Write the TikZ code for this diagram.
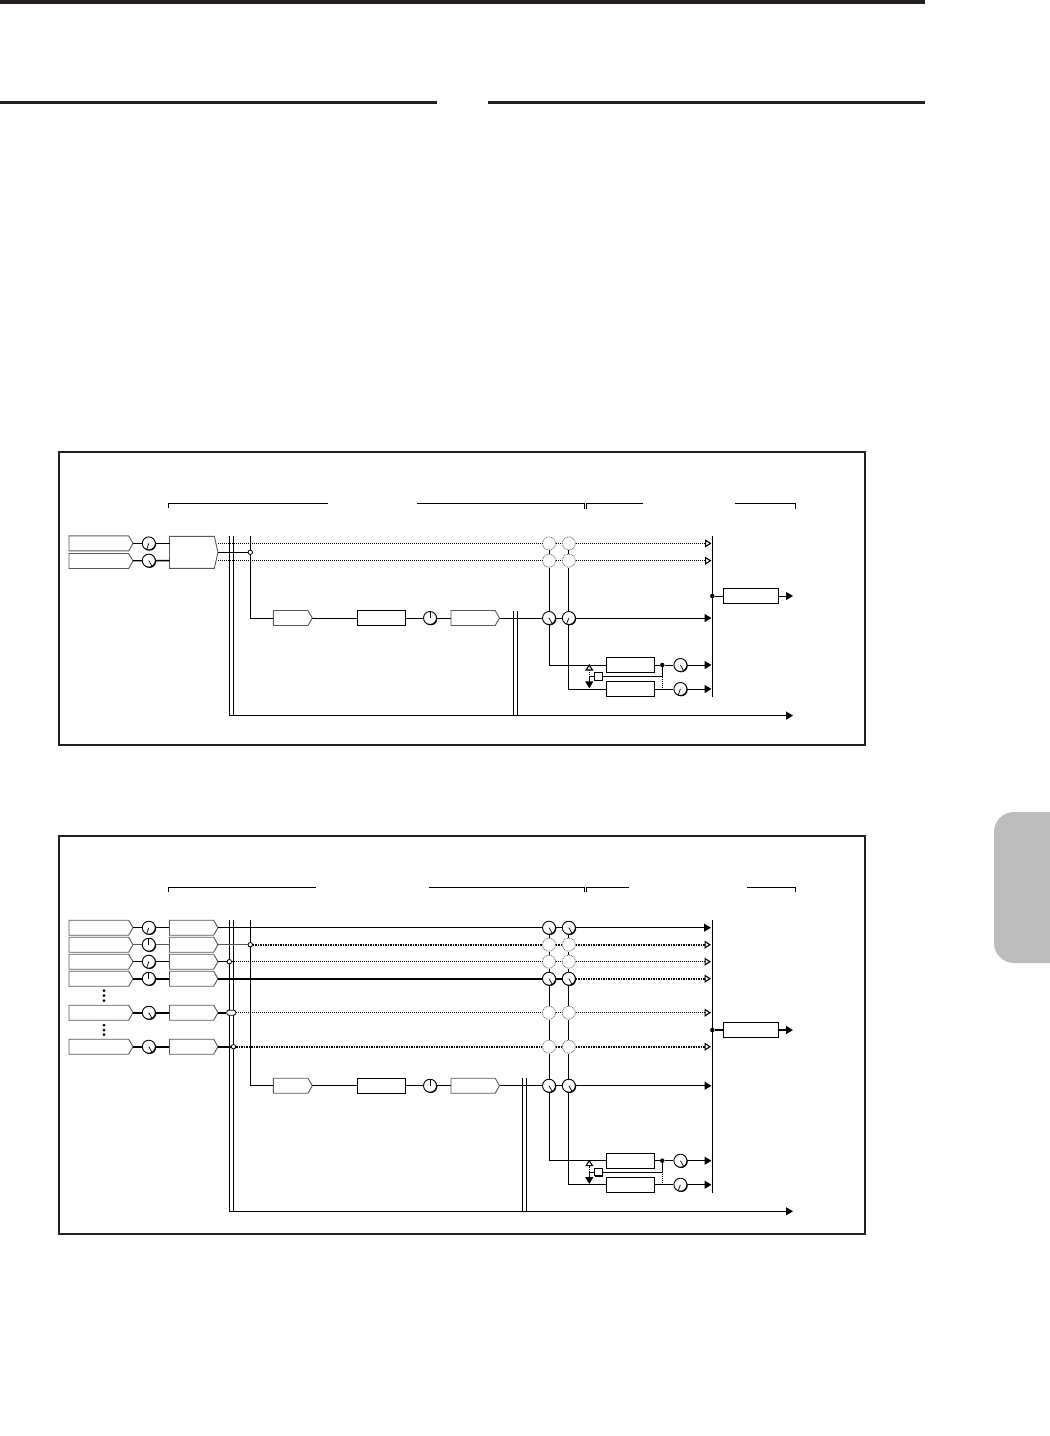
\documentclass[tikz,border=0pt]{standalone}
\usetikzlibrary{arrows.meta,shadows,shapes.symbols}
\definecolor{inkdark}{HTML}{231F20}
\definecolor{tabgray}{HTML}{BDBDBD}
\tikzset{
  wire/.style={line width=1pt,black},
  wiremid/.style={line width=1.5pt,black!65},
  wirethick/.style={line width=2pt,black},
  fxarrow/.style={-{Triangle[length=7pt,width=8pt]}},
  dotline/.style={line width=1pt,dash pattern=on 1pt off 1pt},
  dotmid/.style={line width=1.8pt,dash pattern=on 1.5pt off 1pt},
  openarrow/.style={-{Triangle[open,fill=white,length=6.5pt,width=8pt,line width=1.1pt]}},
  frm/.style={line width=2pt,inkdark},
  brk/.style={line width=1pt,black},
  bar/.style={fill=inkdark,draw=none},
  tag/.style={signal,signal to=east,signal pointer angle=120,draw=black!65,line width=.9pt,
    fill=white,minimum width=64pt,minimum height=15pt,inner sep=0pt,outer sep=0pt,anchor=west},
  stag/.style={tag,minimum width=48.5pt},
  wtag/.style={tag,minimum width=39pt},
  box/.style={rectangle,draw,line width=1pt,fill=white,minimum width=48.5pt,minimum height=15.4pt,inner sep=0pt},
  knob/.style={circle,draw,line width=.9pt,fill=white,minimum size=13pt,inner sep=0pt,
    drop shadow={shadow xshift=.8pt,shadow yshift=-.8pt,fill=black,opacity=1},
    path picture={\draw[line width=.7pt] (path picture bounding box.center) -- ++(#1:6.5pt);}},
  ghost/.style={circle,draw=black!55,line width=.8pt,dash pattern=on 1pt off .8pt,fill=white,minimum size=13pt,inner sep=0pt},
  dot/.style={circle,fill=black,inner sep=0pt,minimum size=4.5pt},
  junc/.style={circle,draw,line width=.8pt,fill=white,inner sep=0pt,minimum size=4.5pt},
  oblong/.style={rounded corners=2pt,draw,line width=.8pt,fill=white,inner sep=0pt,minimum width=9pt,minimum height=5pt},
  sq/.style={rectangle,draw,line width=1pt,fill=white,inner sep=0pt,minimum size=7.5pt,
    drop shadow={shadow xshift=.8pt,shadow yshift=-.8pt,fill=black,opacity=1}},
  ell/.style={circle,fill=black,inner sep=0pt,minimum size=3pt},
}
\begin{document}
\begin{tikzpicture}[x=1pt,y=-1pt]
  \useasboundingbox (0,0) rectangle (1050,1436);
  % page furniture
  \fill[bar] (0,0) rectangle (925,4);
  \fill[bar] (0,101) rectangle (437,104.4);
  \fill[bar] (488,101) rectangle (925,104.4);
  \fill[tabgray] (1050,812) {[rounded corners=20pt] -- (994,812) -- (994,963)} -- (1050,963) -- cycle;
  % frames and brackets
  \draw[frm] (59,452) rectangle (865,745);
  \draw[frm] (59,836) rectangle (865,1234);
  \draw[brk] (168.5,508) |- (328,503.5);
  \draw[brk] (417,503.5) -| (584,508.5);
  \draw[brk] (586.3,508.5) |- (643,503.5);
  \draw[brk] (735,503.5) -| (795.5,508.5);
  \draw[brk] (168.5,892) |- (316,887.3);
  \draw[brk] (429,887.3) -| (584,892);
  \draw[brk] (586.3,892) |- (629,887.3);
  \draw[brk] (747,887.3) -| (795.5,892);
  % send effects block, same in both panels
  \foreach \d/\s in {a/0,b/495.7} {
    \begin{scope}[shift={(0,\s)}]
      \node[box] (fxu\d) at (630.5,665) {};
      \node[box] (fxl\d) at (630.5,689) {};
      \node[dot] (tap\d) at (662.3,665) {};
      \node[knob=300] (ku\d) at (680.4,665) {};
      \node[knob=250] (kl\d) at (680.4,689) {};
      \node[sq] (lnk\d) at (598.3,676.5) {};
      \coordinate (lt\d) at (589.3,676.5);
      \coordinate (ltu\d) at (589.3,664);
      \coordinate (ltd\d) at (589.3,688.3);
      \coordinate (tp\d) at (662.3,676.5);
      \coordinate (tq\d) at (662.3,689);
      \coordinate (eu\d) at (711.5,665);
      \coordinate (el\d) at (711.5,689);
      \draw[wire] (fxu\d) -- (tap\d) -- (ku\d);
      \draw[wire] (fxl\d) -- (kl\d);
      \draw[wire,fxarrow] (ku\d) -- (eu\d);
      \draw[wire,fxarrow] (kl\d) -- (el\d);
      \draw[wire] (tap\d) |- (lnk\d);
      \draw[wire] (lnk\d) -- (lt\d);
      \draw[dotline] (tp\d) -- (tq\d);
      \draw[dotline,openarrow] (lt\d) -- (ltu\d);
      \draw[wire,fxarrow] (lt\d) -- (ltd\d);
    \end{scope}
  }
  % insert chain
  \foreach \d/\yy/\a in {a/618/250,b/1085.7/300} {
    \node[wtag] (ca\d) at (273.3,\yy) {};
    \node[box] (cb\d) at (381.5,\yy) {};
    \node[knob=90] (cc\d) at (430,\yy) {};
    \node[stag] (cd\d) at (451,\yy) {};
    \node[knob=300] (m\d) at (549,\yy) {};
    \node[knob=\a] (n\d) at (568.8,\yy) {};
    \coordinate (e\d) at (711.5,\yy);
    \draw[wire] (ca\d) -- (cb\d) -- (cc\d) -- (cd\d) -- (m\d) -- (n\d);
    \draw[wire,fxarrow] (n\d) -- (e\d);
  }
  % buses, main out
  \foreach \d/\t/\b/\w/\v/\o/\oc in {a/536/715.6/611/513.6/596/wire,b/920/1211.3/1078/522/1030/wirethick} {
    \coordinate (vt1\d) at (229.3,\t);
    \coordinate (vt2\d) at (233.5,\t);
    \coordinate (vb2\d) at (233.5,\b);
    \coordinate (vt3\d) at (250.3,\t);
    \coordinate (st1\d) at (\v,\w);
    \coordinate (sb1\d) at (\v,\b);
    \coordinate (st2\d) at ({\v+4.2},\w);
    \coordinate (sb2\d) at ({\v+4.2},\b);
    \coordinate (out\d) at (793,\b);
    \draw[wire] (vt2\d) -- (vb2\d);
    \draw[wire,fxarrow] (vt1\d) |- (out\d);
    \draw[wire] (st1\d) -- (sb1\d);
    \draw[wire] (st2\d) -- (sb2\d);
    \draw[wire] (vt3\d) |- (ca\d.west);
    \node[box,minimum width=55pt,minimum height=14.6pt] (mst\d) at (750.8,\o) {};
    \node[dot] (md\d) at (712.3,\o) {};
    \coordinate (mo\d) at (793,\o);
    \draw[\oc] (md\d) -- (mst\d);
    \draw[\oc,fxarrow] (mst\d) -- (mo\d);
  }
  \coordinate (mra) at (712.3,536);
  \coordinate (mrb) at (712.3,696.7);
  \coordinate (mrc) at (712.3,920);
  \coordinate (mrd) at (712.3,1192.7);
  \draw[wire] (mra) -- (mrb);
  \draw[wire] (mrc) -- (mrd);
  % panel one
  \node[tag] (ia1) at (69,543.4) {};
  \node[tag] (ia2) at (69,561) {};
  \node[knob=250] (ka1) at (148.8,543.4) {};
  \node[knob=300] (ka2) at (148.8,560.6) {};
  \node[stag,signal pointer angle=154,minimum height=32pt] (mixa) at (169.5,552.3) {};
  \node[junc] (ja) at (250.3,552.3) {};
  \node[ghost] (ga1) at (549,543.4) {};
  \node[ghost] (ga2) at (568.8,543.4) {};
  \node[ghost] (ga3) at (549,560.7) {};
  \node[ghost] (ga4) at (568.8,560.7) {};
  \coordinate (oa1) at (218,543.4);
  \coordinate (oa2) at (218,560.7);
  \coordinate (ma1) at (169.5,543.4);
  \coordinate (ma2) at (169.5,560.6);
  \coordinate (ea1) at (711.5,543.4);
  \coordinate (ea2) at (711.5,560.7);
  \draw[wire] (ia1) -- (ka1) -- (ma1);
  \draw[wirethick,line width=1.3pt] (ia2) -- (ka2) -- (ma2);
  \draw[wire] (mixa) -- (ja);
  \draw[dotline] (oa1) -- (ga1) -- (ga2);
  \draw[dotline] (oa2) -- (ga3) -- (ga4);
  \draw[dotline,openarrow] (ga2) -- (ea1);
  \draw[dotline,openarrow] (ga4) -- (ea2);
  \draw[wire] (ga1) -- (ga3) -- (ma) |- (fxua.west);
  \draw[wire] (ga2) -- (ga4) -- (na) |- (fxla.west);
  % panel two
  \foreach \n/\yy/\a/\w in {1/927.7/250/wire,2/944.7/90/wiremid,3/961.7/250/wire,
      4/978.7/90/wirethick,5/1012.7/300/wirethick,6/1046.7/300/wirethick} {
    \node[tag] (ib\n) at (69,\yy) {};
    \node[knob=\a] (kb\n) at (148.8,\yy) {};
    \node[stag] (tb\n) at (169.5,\yy) {};
    \draw[\w] (ib\n) -- (kb\n) -- (tb\n);
  }
  \foreach \n/\yy in {1/927.7,4/978.7} {
    \node[knob=300] (pl\n) at (549,\yy) {};
    \node[knob=300] (pr\n) at (568.8,\yy) {};
    \coordinate (ep\n) at (711,\yy);
  }
  \foreach \n/\yy in {2/944.7,3/961.7,5/1012.7,6/1046.7} {
    \node[ghost] (pl\n) at (549,\yy) {};
    \node[ghost] (pr\n) at (568.8,\yy) {};
    \coordinate (ep\n) at (711,\yy);
  }
  \node[junc] (jb2) at (250.3,944.7) {};
  \node[junc] (jb3) at (229.3,961.7) {};
  \node[oblong] (jb5) at (231.3,1012.7) {};
  \node[junc] (jb6) at (233.5,1046.7) {};
  \draw[wire] (tb1) -- (pl1) -- (pr1);
  \draw[wire,fxarrow] (pr1) -- (ep1);
  \draw[wiremid] (tb2) -- (jb2);
  \draw[dotmid] (jb2) -- (pl2) -- (pr2);
  \draw[dotmid,openarrow] (pr2) -- (ep2);
  \draw[wire] (tb3) -- (jb3);
  \draw[dotline] (jb3) -- (pl3) -- (pr3);
  \draw[dotline,openarrow] (pr3) -- (ep3);
  \draw[wirethick] (tb4) -- (pl4) -- (pr4);
  \draw[dotmid,openarrow] (pr4) -- (ep4);
  \draw[wirethick] (tb5) -- (jb5);
  \draw[dotline] (jb5) -- (pl5) -- (pr5);
  \draw[dotline,openarrow] (pr5) -- (ep5);
  \draw[wirethick] (tb6) -- (jb6);
  \draw[dotmid] (jb6) -- (pl6) -- (pr6);
  \draw[dotmid,openarrow] (pr6) -- (ep6);
  \draw[wire] (pl1) -- (pl2) -- (pl3) -- (pl4) -- (pl5) -- (pl6) -- (mb) |- (fxub.west);
  \draw[wire] (pr1) -- (pr2) -- (pr3) -- (pr4) -- (pr5) -- (pr6) -- (nb) |- (fxlb.west);
  \foreach \n/\yy in {1/990.5,2/995.7,3/1000.5,4/1025,5/1030,6/1034.7}
    \node[ell] (ed\n) at (104,\yy) {};
\end{tikzpicture}
\end{document}
